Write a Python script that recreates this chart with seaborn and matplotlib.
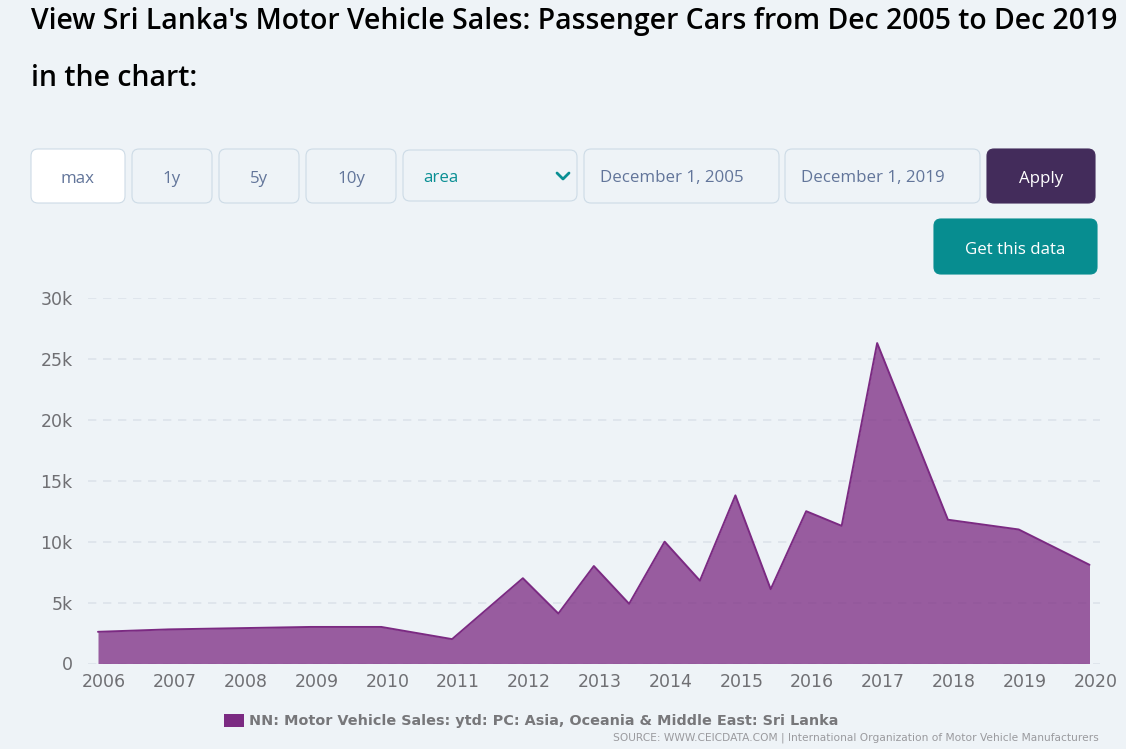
import pandas as pd
import matplotlib.pyplot as plt
import matplotlib.dates as mdates
import seaborn as sns
from matplotlib.patches import FancyBboxPatch
from matplotlib.ticker import FuncFormatter

W, H = 1126, 749
BG = "#eef3f7"
PURPLE = "#7b2a82"
BORDER = "#cddbe6"
BTN_TEXT = "#62759a"

# Dec values, plus half year points 2012 - 2016
sales = pd.DataFrame(
    {
        "date": pd.to_datetime(
            [
                "2005-12-01", "2006-12-01", "2007-12-01", "2008-12-01", "2009-12-01",
                "2010-12-01", "2011-12-01", "2012-06-01", "2012-12-01", "2013-06-01",
                "2013-12-01", "2014-06-01", "2014-12-01", "2015-06-01", "2015-12-01",
                "2016-06-01", "2016-12-01", "2017-12-01", "2018-12-01", "2019-12-01",
            ]
        ),
        "sales": [
            2600, 2800, 2900, 3000, 3000,
            2000, 7000, 4100, 8000, 4900,
            10000, 6800, 13800, 6100, 12500,
            11300, 26300, 11800, 11000, 8100,
        ],
    }
)

sns.set_theme(style="white", rc={"figure.facecolor": BG, "axes.facecolor": BG})
plt.rcParams["font.family"] = ["DejaVu Sans"]

fig = plt.figure(figsize=(W / 100, H / 100), dpi=100)

# plot area in pixels: x 88-1100, y 298-663.5
ax = fig.add_axes([88 / W, 1 - 663.5 / H, (1100 - 88) / W, (663.5 - 298) / H])
sns.lineplot(data=sales, x="date", y="sales", color=PURPLE, lw=1.4, ax=ax)
ax.fill_between(sales["date"], sales["sales"], color=PURPLE, alpha=0.75, lw=0, label="_area")

d0 = mdates.date2num(pd.Timestamp("2005-12-01"))
d1 = mdates.date2num(pd.Timestamp("2019-12-01"))
per_px = (d1 - d0) / (1089.5 - 98)
ax.set_xlim(d0 - 10 * per_px, d0 + (1100 - 98) * per_px)
ax.set_ylim(0, 30000)
ax.set_xlabel("")
ax.set_ylabel("")
ax.set_yticks(range(0, 30001, 5000))
ax.yaxis.set_major_formatter(FuncFormatter(lambda v, _: "0" if v == 0 else f"{v / 1000:.0f}k"))
ax.xaxis.set_major_locator(mdates.YearLocator())
ax.xaxis.set_major_formatter(mdates.DateFormatter("%Y"))
ax.tick_params(axis="both", length=0, labelsize=12.5, labelcolor="#6f6f73")
ax.tick_params(axis="x", pad=7)
ax.tick_params(axis="y", pad=11)
ax.grid(axis="y", color="#dde3ea", lw=1.2, ls=(0, (5, 4)))
ax.set_axisbelow(True)
sns.despine(ax=ax, left=True, bottom=True)
for lab in ax.get_xticklabels():
    lab.set_clip_on(False)

# page overlay, pixel coords
ui = fig.add_axes([0, 0, 1, 1], facecolor="none")
ui.set_xlim(0, W)
ui.set_ylim(H, 0)
ui.axis("off")

ui.text(31, 21, "View Sri Lanka's Motor Vehicle Sales: Passenger Cars from Dec 2005 to Dec 2019",
        fontsize=20.4, fontweight="semibold", family="Open Sans", color="black", va="center")
ui.text(31, 78, "in the chart:", fontsize=20.4, fontweight="semibold", family="Open Sans",
        color="black", va="center")


def button(x0, y0, x1, y1, label, face="none", edge=BORDER, color=BTN_TEXT, tx=None, dy=3):
    ui.add_patch(
        FancyBboxPatch((x0 + 6, y0 + 6), x1 - x0 - 12, y1 - y0 - 12,
                       boxstyle="round,pad=6,rounding_size=7",
                       facecolor=face, edgecolor=edge, lw=0.8)
    )
    if tx is None:
        ui.text((x0 + x1) / 2, (y0 + y1) / 2 + dy, label, ha="center", va="center",
                fontsize=12.2, family="Open Sans", color=color)
    else:
        ui.text(tx, (y0 + y1) / 2 + dy, label, ha="left", va="center",
                fontsize=12.2, family="Open Sans", color=color)


button(31, 149, 125, 203, "max", face="white")
button(132, 149, 212, 203, "1y")
button(219, 149, 299, 203, "5y")
button(306, 149, 396, 203, "10y")
button(403, 150, 577, 201, "area", color="#0a8f94", tx=423)
button(584, 149, 779, 203, "December 1, 2005", tx=600, dy=2)
button(785, 149, 980, 203, "December 1, 2019", tx=801, dy=2)
button(987, 149, 1095, 203, "Apply", face="#432c5b", edge="#432c5b", color="white")
button(934, 219, 1097, 274, "Get this data", face="#078d90", edge="#078d90", color="white", dy=4)
ui.plot([557, 563, 569], [173, 179, 173], color="#0a8f94", lw=2)

# legend and source
ui.add_patch(plt.Rectangle((224, 714), 20, 13, facecolor=PURPLE, edgecolor="none"))
ui.text(249, 720.5, "NN: Motor Vehicle Sales: ytd: PC: Asia, Oceania & Middle East: Sri Lanka",
        fontsize=10.35, fontweight="bold", color="#77777a", va="center")
ui.text(1099, 738, "SOURCE: WWW.CEICDATA.COM | International Organization of Motor Vehicle Manufacturers",
        fontsize=7.7, color="#9a9a9e", ha="right", va="center")

fig.savefig("out.png", dpi=100, facecolor=BG)
